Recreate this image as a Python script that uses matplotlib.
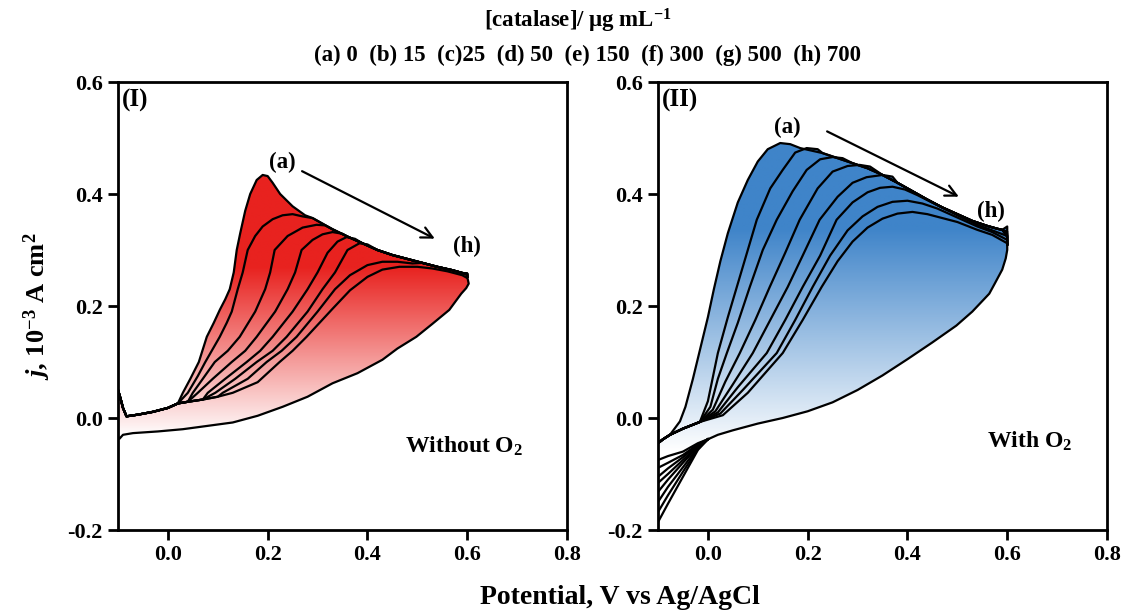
import numpy as np
import matplotlib
matplotlib.use('Agg')
import matplotlib.pyplot as plt
from matplotlib.colors import LinearSegmentedColormap
from matplotlib.patches import Polygon

plt.rcParams['font.family'] = ['Liberation Serif', 'DejaVu Serif']
plt.rcParams['font.weight'] = 'bold'
plt.rcParams['mathtext.fontset'] = 'custom'
plt.rcParams['mathtext.rm'] = 'Liberation Serif:bold'
plt.rcParams['mathtext.bf'] = 'Liberation Serif:bold'
plt.rcParams['mathtext.it'] = 'Liberation Serif:italic:bold'
plt.rcParams['mathtext.default'] = 'bf'

LABELS = ['a', 'b', 'c', 'd', 'e', 'f', 'g', 'h']

# ---------- panel I : without O2 ----------
L_START_X = [-0.1, -0.095, -0.09, -0.083, -0.06, -0.03, 0.0, 0.02]
L_START_Y = [0.05, 0.035, 0.018, 0.003, 0.006, 0.011, 0.018, 0.026]
L_BASE_X = [0.04, 0.07, 0.10]
L_BASE_Y = [0.029, 0.033, 0.038]

L_RISE_X = [
    [0.03, 0.045, 0.062, 0.078, 0.092, 0.104, 0.115, 0.124, 0.132, 0.138, 0.145, 0.155, 0.165, 0.178, 0.19, 0.2, 0.21, 0.225, 0.25, 0.275],
    [0.04, 0.06, 0.075, 0.104, 0.118, 0.128, 0.14, 0.15, 0.16, 0.175, 0.19, 0.21, 0.23, 0.25, 0.27],
    [0.05, 0.07, 0.094, 0.12, 0.144, 0.175, 0.195, 0.205, 0.214, 0.24, 0.27, 0.298, 0.315],
    [0.06, 0.09, 0.128, 0.155, 0.178, 0.215, 0.24, 0.255, 0.268, 0.29, 0.31, 0.33, 0.35],
    [0.08, 0.115, 0.158, 0.185, 0.21, 0.25, 0.28, 0.30, 0.32, 0.34, 0.358, 0.375],
    [0.095, 0.135, 0.178, 0.21, 0.238, 0.28, 0.31, 0.335, 0.36, 0.384, 0.40],
    [0.11, 0.16, 0.198, 0.228, 0.258, 0.30, 0.335, 0.365, 0.40, 0.43, 0.46, 0.49],
    [0.13, 0.18, 0.224, 0.25, 0.278, 0.33, 0.365, 0.40, 0.43, 0.464, 0.50, 0.53, 0.56, 0.59],
]
L_RISE_Y = [
    [0.045, 0.07, 0.10, 0.145, 0.17, 0.193, 0.212, 0.23, 0.26, 0.30, 0.33, 0.37, 0.40, 0.425, 0.434, 0.432, 0.42, 0.40, 0.378, 0.362],
    [0.045, 0.075, 0.10, 0.145, 0.17, 0.19, 0.23, 0.26, 0.30, 0.325, 0.342, 0.355, 0.362, 0.364, 0.36],
    [0.045, 0.07, 0.10, 0.12, 0.145, 0.19, 0.23, 0.26, 0.30, 0.325, 0.34, 0.345, 0.344],
    [0.045, 0.07, 0.10, 0.12, 0.145, 0.19, 0.23, 0.26, 0.30, 0.318, 0.328, 0.332, 0.329],
    [0.045, 0.07, 0.10, 0.12, 0.145, 0.19, 0.23, 0.26, 0.295, 0.315, 0.323, 0.32],
    [0.045, 0.07, 0.10, 0.12, 0.145, 0.19, 0.23, 0.26, 0.30, 0.312, 0.31],
    [0.045, 0.07, 0.10, 0.12, 0.145, 0.19, 0.23, 0.255, 0.273, 0.279, 0.279, 0.276],
    [0.045, 0.064, 0.10, 0.12, 0.145, 0.195, 0.228, 0.252, 0.265, 0.27, 0.27, 0.267, 0.262, 0.255],
]
L_ENV_X = [0.29, 0.30, 0.33, 0.36, 0.39, 0.42, 0.45, 0.48, 0.51, 0.54, 0.57, 0.59]
L_ENV_Y = [0.357, 0.352, 0.337, 0.324, 0.312, 0.300, 0.291, 0.284, 0.277, 0.27, 0.264, 0.259]
L_END_Y = [0.256, 0.257, 0.258, 0.258, 0.258, 0.257, 0.255, 0.25]
L_REV_X = [0.60, 0.603, 0.598, 0.588, 0.564, 0.53, 0.498, 0.46, 0.43, 0.38, 0.33, 0.28, 0.23,
           0.18, 0.13, 0.08, 0.03, -0.02, -0.07, -0.09, -0.097, -0.1]
L_REV_Y = [0.252, 0.24, 0.232, 0.222, 0.193, 0.168, 0.145, 0.124, 0.104, 0.08, 0.062, 0.038, 0.02,
           0.004, -0.008, -0.014, -0.02, -0.024, -0.027, -0.03, -0.037, -0.033]

# ---------- panel II : with O2 ----------
R_START_X = [-0.1, -0.09, -0.076]
R_START_Y = [-0.045, -0.038, -0.03]
R_BASE_X = [-0.05, -0.03, -0.016]
R_BASE_Y = [-0.019, -0.012, -0.007]

R_RISE_X = [
    [-0.066, -0.056, -0.045, -0.03, -0.015, 0.0, 0.012, 0.025, 0.04, 0.06, 0.08, 0.10, 0.12, 0.145, 0.165, 0.185],
    [0.0, 0.02, 0.04, 0.058, 0.08, 0.098, 0.125, 0.15, 0.175, 0.198, 0.22],
    [0.005, 0.02, 0.038, 0.06, 0.084, 0.11, 0.138, 0.17, 0.198, 0.225, 0.25, 0.27],
    [0.01, 0.035, 0.064, 0.095, 0.124, 0.155, 0.184, 0.22, 0.25, 0.28, 0.304, 0.325],
    [0.015, 0.05, 0.09, 0.125, 0.16, 0.19, 0.224, 0.26, 0.29, 0.318, 0.35, 0.37],
    [0.02, 0.06, 0.118, 0.155, 0.19, 0.225, 0.258, 0.29, 0.32, 0.345, 0.37, 0.395, 0.42, 0.46, 0.50, 0.54, 0.57, 0.60],
    [0.025, 0.07, 0.138, 0.175, 0.21, 0.245, 0.28, 0.31, 0.34, 0.37, 0.40, 0.43, 0.46, 0.50, 0.54, 0.57, 0.60],
    [0.03, 0.08, 0.15, 0.19, 0.228, 0.26, 0.29, 0.32, 0.35, 0.38, 0.41, 0.44, 0.47, 0.50, 0.54, 0.57, 0.60],
]
R_RISE_Y = [
    [-0.018, -0.006, 0.02, 0.07, 0.125, 0.18, 0.23, 0.28, 0.33, 0.385, 0.425, 0.458, 0.48, 0.491, 0.489, 0.482],
    [0.03, 0.116, 0.18, 0.234, 0.30, 0.354, 0.41, 0.443, 0.474, 0.482, 0.48],
    [0.02, 0.07, 0.116, 0.17, 0.234, 0.30, 0.354, 0.405, 0.443, 0.462, 0.466, 0.464],
    [0.015, 0.065, 0.116, 0.175, 0.234, 0.295, 0.354, 0.41, 0.44, 0.45, 0.452, 0.449],
    [0.012, 0.06, 0.116, 0.175, 0.234, 0.29, 0.354, 0.395, 0.42, 0.43, 0.434, 0.431],
    [0.01, 0.055, 0.116, 0.175, 0.234, 0.29, 0.354, 0.385, 0.403, 0.411, 0.413, 0.408, 0.398, 0.38, 0.362, 0.345, 0.335, 0.325],
    [0.008, 0.05, 0.116, 0.175, 0.234, 0.29, 0.335, 0.36, 0.377, 0.386, 0.388, 0.383, 0.374, 0.358, 0.342, 0.332, 0.318],
    [0.005, 0.045, 0.116, 0.175, 0.234, 0.28, 0.315, 0.34, 0.356, 0.365, 0.368, 0.364, 0.357, 0.35, 0.336, 0.327, 0.312],
]
R_ENV_X = [0.20, 0.23, 0.26, 0.29, 0.32, 0.35, 0.38, 0.41, 0.44, 0.47, 0.50, 0.53, 0.56, 0.58, 0.59]
R_ENV_Y = [0.479, 0.473, 0.464, 0.455, 0.446, 0.434, 0.42, 0.405, 0.39, 0.376, 0.364, 0.352, 0.343, 0.338, 0.336]
R_END_Y = [0.342, 0.333, 0.329, 0.326, 0.323]
R_REV_X = [0.6, 0.6, 0.597, 0.59, 0.575, 0.564, 0.53, 0.498, 0.45, 0.40, 0.35, 0.30, 0.25,
           0.20, 0.15, 0.10, 0.05, 0.02, 0.0]
R_REV_Y = [0.31, 0.30, 0.285, 0.265, 0.24, 0.222, 0.19, 0.165, 0.135, 0.105, 0.076, 0.05, 0.028,
           0.012, 0.0, -0.01, -0.022, -0.03, -0.038]
R_TAIL_X = [-0.02, -0.05, -0.08, -0.1]
R_TAIL_Y = [
    [-0.045, -0.06, -0.068, -0.075],
    [-0.047, -0.066, -0.08, -0.089],
    [-0.048, -0.07, -0.09, -0.105],
    [-0.05, -0.075, -0.1, -0.116],
    [-0.051, -0.08, -0.11, -0.132],
    [-0.053, -0.088, -0.123, -0.15],
    [-0.055, -0.096, -0.138, -0.168],
    [-0.057, -0.105, -0.153, -0.186],
]


def forward(i, sx, sy, bx, by, rx, ry, ex, ey, end_y):
    x = list(sx)
    y = list(sy)
    if i > 0:
        for xb, yb in zip(bx, by):
            if xb < rx[i][0]:
                x.append(xb)
                y.append(yb)
    x += rx[i]
    y += ry[i]
    last = rx[i][-1]
    if last < 0.6:
        for xe, ye in zip(ex, ey):
            if xe > last:
                x.append(xe)
                y.append(ye)
        x.append(0.6)
        y.append(end_y[i] if i < len(end_y) else ey[-1])
    return x, y


def grad_fill(ax, xs, ys, color, lo, hi):
    cmap = LinearSegmentedColormap.from_list('g', ['white', color])
    yy = np.linspace(-0.2, 0.6, 400)
    frac = np.clip((yy - lo) / (hi - lo), 0, 1).reshape(-1, 1)
    poly = Polygon(np.column_stack([xs, ys]), closed=True, facecolor='none', edgecolor='none')
    ax.add_patch(poly)
    im = ax.imshow(frac, extent=[-0.1, 0.62, -0.2, 0.6], origin='lower', aspect='auto',
                   cmap=cmap, vmin=0, vmax=1, zorder=1, interpolation='bilinear')
    im.set_clip_path(poly)


def style(ax):
    ax.set_xlim(-0.1, 0.8)
    ax.set_ylim(-0.2, 0.6)
    ax.set_xticks([0.0, 0.2, 0.4, 0.6, 0.8])
    ax.set_yticks([-0.2, 0.0, 0.2, 0.4, 0.6])
    ax.set_xticklabels(['0.0', '0.2', '0.4', '0.6', '0.8'])
    ax.set_yticklabels(['-0.2', '0.0', '0.2', '0.4', '0.6'])
    ax.tick_params(direction='out', length=7, width=2, labelsize=16, pad=4)
    for lab in ax.get_xticklabels() + ax.get_yticklabels():
        lab.set_fontweight('bold')
    for sp in ax.spines.values():
        sp.set_linewidth(2)


fig = plt.figure(figsize=(11.25, 6.12), dpi=100)
ax1 = fig.add_axes([118 / 1125, 82 / 612, 449 / 1125, 448 / 612])
ax2 = fig.add_axes([658 / 1125, 82 / 612, 449 / 1125, 448 / 612])

# panel I
red = '#E8221F'
for i in range(len(LABELS)):
    fx, fy = forward(i, L_START_X, L_START_Y, L_BASE_X, L_BASE_Y, L_RISE_X, L_RISE_Y,
                     L_ENV_X, L_ENV_Y, L_END_Y)
    grad_fill(ax1, fx + L_REV_X, fy + L_REV_Y, red, -0.035, 0.27)
for i in range(len(LABELS)):
    fx, fy = forward(i, L_START_X, L_START_Y, L_BASE_X, L_BASE_Y, L_RISE_X, L_RISE_Y,
                     L_ENV_X, L_ENV_Y, L_END_Y)
    ax1.plot(fx + [L_REV_X[0]], fy + [L_REV_Y[0]], color='black', lw=1.6, zorder=3,
             solid_joinstyle='round')
ax1.plot(L_REV_X, L_REV_Y, color='black', lw=1.6, zorder=3)

# panel II
blue = '#3F84C9'
for i in range(len(LABELS)):
    fx, fy = forward(i, R_START_X, R_START_Y, R_BASE_X, R_BASE_Y, R_RISE_X, R_RISE_Y,
                     R_ENV_X, R_ENV_Y, R_END_Y)
    grad_fill(ax2, fx + R_REV_X + R_TAIL_X, fy + R_REV_Y + R_TAIL_Y[i], blue, -0.06, 0.34)
for i in range(len(LABELS)):
    fx, fy = forward(i, R_START_X, R_START_Y, R_BASE_X, R_BASE_Y, R_RISE_X, R_RISE_Y,
                     R_ENV_X, R_ENV_Y, R_END_Y)
    ax2.plot(fx + [R_REV_X[0]], fy + [R_REV_Y[0]], color='black', lw=1.6, zorder=3,
             solid_joinstyle='round')
    ax2.plot([R_REV_X[-1]] + R_TAIL_X, [R_REV_Y[-1]] + R_TAIL_Y[i], color='black', lw=1.6, zorder=3)
ax2.plot(R_REV_X, R_REV_Y, color='black', lw=1.6, zorder=3)

style(ax1)
style(ax2)

# annotations
ax1.text(-0.092, 0.588, '(I)', fontsize=18, fontweight='bold', va='top')
ax2.text(-0.092, 0.588, '(II)', fontsize=18, fontweight='bold', va='top')
ax1.text(0.23, 0.457, '(a)', fontsize=16.5, fontweight='bold', ha='center', va='center')
ax1.text(0.60, 0.307, '(h)', fontsize=16.5, fontweight='bold', ha='center', va='center')
ax1.annotate('', xy=(0.54, 0.318), xytext=(0.264, 0.443),
             arrowprops=dict(arrowstyle='->', lw=1.6, color='black', mutation_scale=20))
ax2.text(0.16, 0.518, '(a)', fontsize=16.5, fontweight='bold', ha='center', va='center')
ax2.text(0.568, 0.368, '(h)', fontsize=16.5, fontweight='bold', ha='center', va='center')
ax2.annotate('', xy=(0.508, 0.393), xytext=(0.234, 0.514),
             arrowprops=dict(arrowstyle='->', lw=1.6, color='black', mutation_scale=20))
ax1.text(0.594, -0.05, r'Without O$_{2}$', fontsize=17, fontweight='bold', ha='center', va='center')
ax2.text(0.644, -0.042, r'With O$_{2}$', fontsize=17, fontweight='bold', ha='center', va='center')

ax1.set_ylabel(r'$\mathit{j}$, 10$^{-3}$ A cm$^{2}$', fontsize=19, fontweight='bold', labelpad=10)
fig.text(620 / 1125, 1 - 598 / 612, 'Potential, V vs Ag/AgCl', fontsize=20, fontweight='bold',
         ha='center', va='center')
fig.text(578 / 1125, 1 - 21 / 612, r'[catalase]/ $\mu$g mL$^{-1}$', fontsize=16.5, fontweight='bold',
         ha='center', va='center')
fig.text(587 / 1125, 1 - 55 / 612, '(a) 0  (b) 15  (c)25  (d) 50  (e) 150  (f) 300  (g) 500  (h) 700',
         fontsize=16.5, fontweight='bold', ha='center', va='center')

fig.savefig('out.png', dpi=100)
